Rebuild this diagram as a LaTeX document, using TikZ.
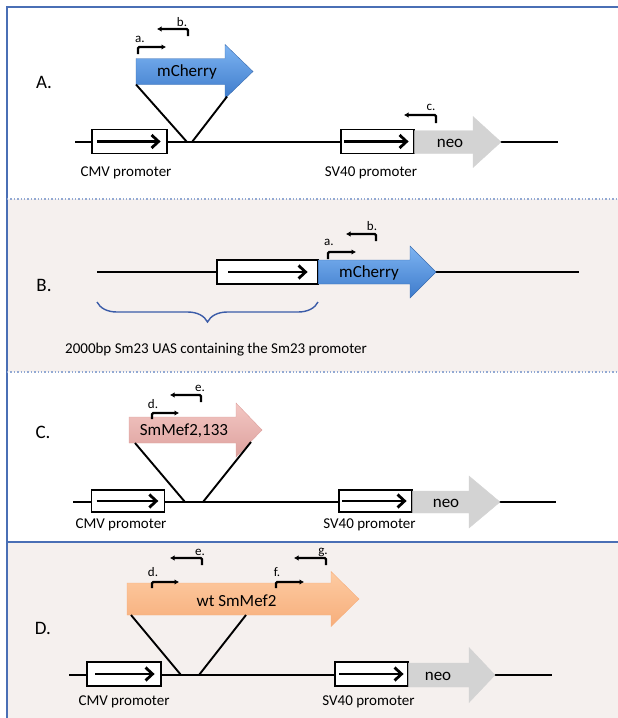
\documentclass[tikz,border=0pt]{standalone}
\usepackage{fontspec}
\setmainfont{Carlito}
\usetikzlibrary{arrows.meta, calc, decorations.pathreplacing}
\definecolor{FR_BLUE}{HTML}{4A6FB5}
\definecolor{PN_BG}{HTML}{F5F0EE}
\definecolor{MC_TOP}{HTML}{7DB4F2}
\definecolor{MC_BOT}{HTML}{3E7BCB}
\definecolor{MC_EDGE}{HTML}{3A6CB0}
\definecolor{SM_TOP}{HTML}{F3C7C3}
\definecolor{SM_BOT}{HTML}{DDA19E}
\definecolor{WT_TOP}{HTML}{FDCBA2}
\definecolor{WT_BOT}{HTML}{F7AE7B}
\definecolor{NEO_GRAY}{HTML}{D3D3D3}
\definecolor{BR_BLUE}{HTML}{3B5CA8}
\tikzset{
  dna/.style={line width=1.2pt, black},
  ins/.style={line width=1.9pt, black},
  prom/.style={
    rectangle, draw=black, line width=1.2pt, fill=white,
    minimum height=24pt, inner sep=0pt},
  promarr/.style={line width=2.8pt, -{Straight Barb[length=7pt,width=13pt]}},
  mchgene/.style={top color=MC_TOP, bottom color=MC_BOT, draw=MC_EDGE, line width=0.4pt},
  smgene/.style={top color=SM_TOP, bottom color=SM_BOT, draw=SM_BOT, line width=0.4pt},
  wtgene/.style={top color=WT_TOP, bottom color=WT_BOT, draw=WT_BOT, line width=0.4pt},
  neogene/.style={fill=NEO_GRAY, draw=NEO_GRAY, line width=0.4pt},
  primer/.style={line width=2.2pt, rounded corners=1.2pt, -{Latex[length=4.5pt,width=5.5pt]}},
  plab/.style={font=\fontsize{13}{14}\selectfont, inner sep=0pt},
  glab/.style={font=\fontsize{17}{20}\selectfont, inner sep=0pt},
  lab/.style={font=\fontsize{15}{18}\selectfont, inner sep=0pt},
  panel/.style={font=\fontsize{19}{22}\selectfont, inner sep=0pt},
}
% gene arrow: style, name, tail x, head base x, tip x, mid y, body half, head half
\newcommand{\genearrow}[8]{%
  \draw[#1] (#3,#6-#7) coordinate (#2-tl) -- (#4,#6-#7) -- (#4,#6-#8)
    -- (#5,#6) coordinate (#2-tip) -- (#4,#6+#8) -- (#4,#6+#7)
    -- (#3,#6+#7) coordinate (#2-bl) -- cycle;}

\begin{document}
\begin{tikzpicture}[x=1pt, y=-1pt]
  \useasboundingbox (0,0) rectangle (618,718);

  % panel frames
  \fill[PN_BG] (7,199) rectangle (618,372);
  \fill[PN_BG] (7,542) rectangle (618,718);
  \draw[FR_BLUE, line width=1.6pt] (7,718) -- (7,7) -- (618,7);
  \draw[FR_BLUE!60, line width=1.4pt, dotted] (7,199) -- (618,199);
  \draw[FR_BLUE!60, line width=1.4pt, dotted] (7,372) -- (618,372);
  \draw[FR_BLUE, line width=1.6pt] (7,542) -- (618,542);

  % ---- A ----
  \node[panel] (labA) at (44,82) {A.};
  \coordinate (dnaA-w) at (75,142);
  \coordinate (dnaA-e) at (558,142);
  \draw[dna] (dnaA-w) -- (dnaA-e);
  \genearrow{mchgene}{mchA}{136}{225}{253}{71.5}{13}{27}
  \node[glab] (txtA) at (187,72) {mCherry};
  \coordinate (insA-l) at (187,142);
  \coordinate (insA-r) at (192,142);
  \coordinate (mchA-hd) at (227,96.6);
  \draw[ins] (mchA-bl) -- (insA-l);
  \draw[ins] (insA-r) -- (mchA-hd);
  \node[prom, minimum width=75pt] (cmvA) at (129.5,141.5) {};
  \draw[promarr] ([xshift=6pt]cmvA.west) -- ([xshift=-7pt]cmvA.east);
  \node[prom, minimum width=73pt] (svA) at (377.5,141.5) {};
  \draw[promarr] ([xshift=4pt]svA.west) -- ([xshift=-6pt]svA.east);
  \genearrow{neogene}{neoA}{414.6}{473}{501}{142}{11.5}{25.5}
  \node[glab] at (450,143) {neo};
  \node[lab] (cmvtA) at (126,173) {CMV promoter};
  \node[lab] (svtA) at (371,173) {SV40 promoter};
  \draw[primer] (138,54) -- (138,47) -- (166,47);
  \node[plab] at (140,39) {a.};
  \draw[primer] (188,36) -- (188,29) -- (157,29);
  \node[plab] at (182,22) {b.};
  \draw[primer] (436,123) -- (436,115) -- (404,115);
  \node[plab] at (431,107) {c.};

  % ---- B ----
  \node[panel] (labB) at (44,285) {B.};
  \coordinate (dnaB-w) at (97,272);
  \coordinate (dnaB-e) at (579,272);
  \draw[dna] (dnaB-w) -- (dnaB-e);
  \node[prom, minimum width=101pt] (smB) at (267.5,272) {};
  \draw[promarr] ([xshift=12pt]smB.west) -- ([xshift=-11pt]smB.east);
  \genearrow{mchgene}{mchB}{318.6}{410}{436}{272}{12}{26}
  \node[glab] at (369,273) {mCherry};
  \draw[primer] (328,259) -- (328,252) -- (356,252);
  \node[plab] at (329,242) {a.};
  \draw[primer] (376,241) -- (376,234) -- (346,234);
  \node[plab] at (372,226) {b.};
  \draw[BR_BLUE, line width=1.4pt, decorate,
    decoration={brace, mirror, amplitude=20pt}] (97,302) -- (318,302);
  \node[lab, anchor=west] at (65,350) {2000bp Sm23 UAS containing the Sm23 promoter};

  % ---- C ----
  \node[panel] (labC) at (43,432) {C.};
  \coordinate (dnaC-w) at (73,502);
  \coordinate (dnaC-e) at (556,502);
  \draw[dna] (dnaC-w) -- (dnaC-e);
  \genearrow{smgene}{smC}{129}{236}{262}{430}{13}{27}
  \node[glab] at (184,431) {SmMef2,133};
  \coordinate (insC-l) at (185,502);
  \coordinate (insC-r) at (203,502);
  \coordinate (smC-bi) at (135,443);
  \coordinate (smC-hd) at (251,442);
  \draw[ins] (smC-bi) -- (insC-l);
  \draw[ins] (insC-r) -- (smC-hd);
  \node[prom, minimum width=73.5pt, minimum height=22pt] (cmvC) at (128,501) {};
  \draw[promarr] ([xshift=6pt]cmvC.west) -- ([xshift=-7pt]cmvC.east);
  \node[prom, minimum width=73pt, minimum height=22pt] (svC) at (375.5,501) {};
  \draw[promarr] ([xshift=4pt]svC.west) -- ([xshift=-6pt]svC.east);
  \genearrow{neogene}{neoC}{412.6}{469}{500}{502}{11}{26}
  \node[glab] at (446,503) {neo};
  \node[lab] (cmvtC) at (121,525) {CMV promoter};
  \node[lab] (svtC) at (369.5,525) {SV40 promoter};
  \draw[primer] (152,419) -- (152,413) -- (179,413);
  \node[plab] at (153,404) {d.};
  \draw[primer] (201,402) -- (201,395) -- (170,395);
  \node[plab] at (200,388) {e.};

  % ---- D ----
  \node[panel] (labD) at (43,628) {D.};
  \coordinate (dnaD-w) at (69,675);
  \coordinate (dnaD-e) at (552,675);
  \draw[dna] (dnaD-w) -- (dnaD-e);
  \genearrow{wtgene}{wtD}{127}{331}{359}{599}{16}{27.5}
  \node[glab] at (236.5,601) {wt SmMef2};
  \coordinate (insD-l) at (181,675);
  \coordinate (insD-r) at (199,675);
  \coordinate (wtD-bi) at (131,615);
  \coordinate (wtD-bo) at (246,615);
  \draw[ins] (wtD-bi) -- (insD-l);
  \draw[ins] (insD-r) -- (wtD-bo);
  \node[prom, minimum width=74pt] (cmvD) at (124,674) {};
  \draw[promarr] ([xshift=9pt]cmvD.west) -- ([xshift=-7pt]cmvD.east);
  \node[prom, minimum width=73pt] (svD) at (371.5,674) {};
  \draw[promarr] ([xshift=5pt]svD.west) -- ([xshift=-5pt]svD.east);
  \genearrow{neogene}{neoD}{408.6}{469}{495}{675}{12}{27.5}
  \node[glab] at (438,676) {neo};
  \node[lab] (cmvtD) at (124,702) {CMV promoter};
  \node[lab] (svtD) at (368.5,702) {SV40 promoter};
  \draw[primer] (152,588) -- (152,582) -- (179,582);
  \node[plab] at (153,572) {d.};
  \draw[primer] (202,565) -- (202,558) -- (170,558);
  \node[plab] at (200,552) {e.};
  \draw[primer] (276,588) -- (276,582) -- (304,582);
  \node[plab] at (277,572) {f.};
  \draw[primer] (326,565) -- (326,558) -- (294,558);
  \node[plab] at (323,552) {g.};
\end{tikzpicture}
\end{document}
